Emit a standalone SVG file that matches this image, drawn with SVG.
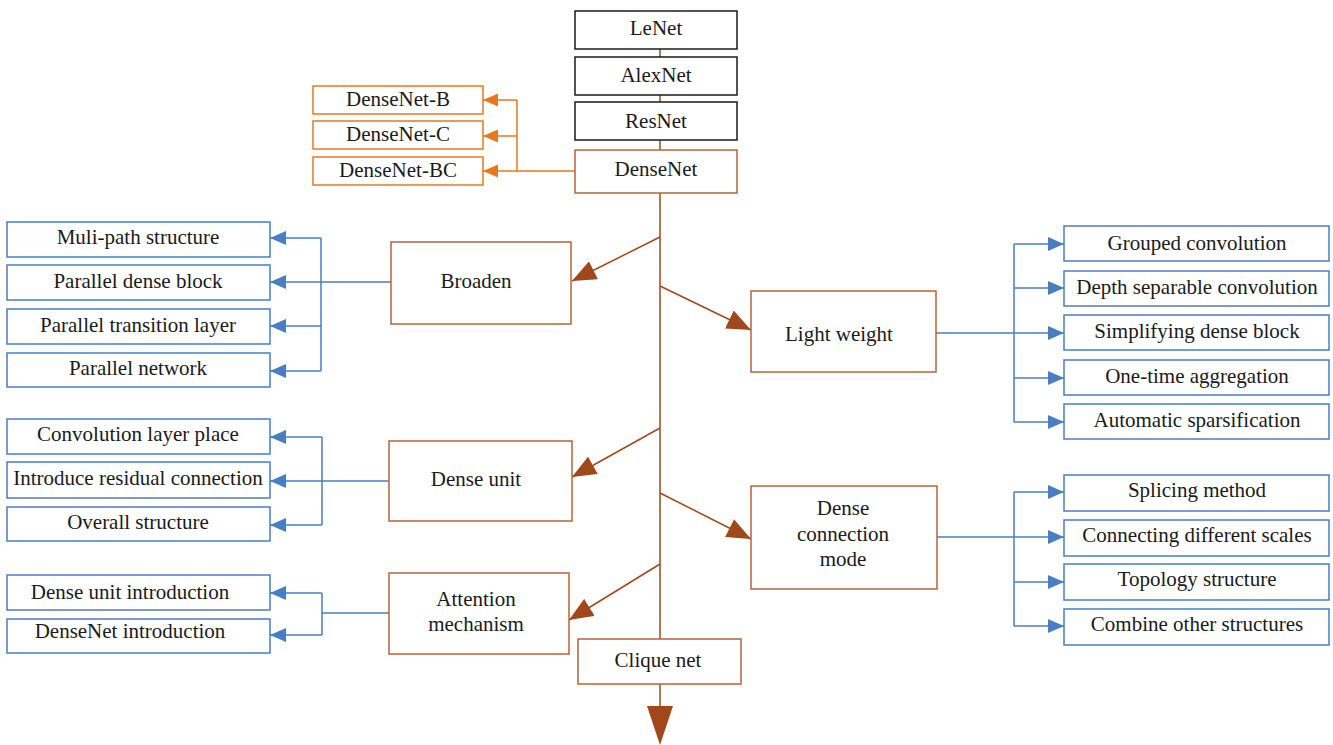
<svg xmlns="http://www.w3.org/2000/svg" width="1333" height="745" viewBox="0 0 1333 745">
<style>
text{font-family:"Liberation Serif","Times New Roman",serif;font-size:21px;fill:#1a1a1a;text-anchor:middle;dominant-baseline:central}
.bk{fill:#fff;stroke:#1a1a1a;stroke-width:1.5}
.br{fill:#fff;stroke:#B5633A;stroke-width:1.5}
.or{fill:#fff;stroke:#E8781E;stroke-width:1.5}
.bl{fill:#fff;stroke:#4A7EC0;stroke-width:1.5}
.lbr{fill:none;stroke:#A1481B;stroke-width:1.5}
.lor{fill:none;stroke:#E8781E;stroke-width:1.5}
.lbl{fill:none;stroke:#4A7EC0;stroke-width:1.5}
</style>
<defs>
<marker id="ab" viewBox="0 0 24 20" markerWidth="24" markerHeight="20" refX="24" refY="10" orient="auto" markerUnits="userSpaceOnUse"><path d="M0,0 L24,10 L0,20 z" fill="#A1481B"/></marker>
<marker id="ao" viewBox="0 0 15 13" markerWidth="15" markerHeight="13" refX="15" refY="6.5" orient="auto" markerUnits="userSpaceOnUse"><path d="M0,0 L15,6.5 L0,13 z" fill="#E8781E"/></marker>
<marker id="ae" viewBox="0 0 16 14" markerWidth="16" markerHeight="14" refX="16" refY="7" orient="auto" markerUnits="userSpaceOnUse"><path d="M0,0 L16,7 L0,14 z" fill="#4A7EC0"/></marker>
</defs>
<g id="connectors">
<path class="lbr" d="M660,49V57 M660,95V102 M660,140V150 M660,193V639 M660,684V707"/>
<polygon points="647,706 673,706 660,745" fill="#A1481B"/>
<path class="lbr" d="M660,237L572,281" marker-end="url(#ab)"/>
<path class="lbr" d="M660,286L751,330" marker-end="url(#ab)"/>
<path class="lbr" d="M660,428L572,477" marker-end="url(#ab)"/>
<path class="lbr" d="M660,493L751,539" marker-end="url(#ab)"/>
<path class="lbr" d="M660,564L569,620" marker-end="url(#ab)"/>
<path class="lor" d="M575,171H517V100"/>
<path class="lor" d="M517,100H483" marker-end="url(#ao)"/>
<path class="lor" d="M517,136H483" marker-end="url(#ao)"/>
<path class="lor" d="M517,171H483" marker-end="url(#ao)"/>
<path class="lbl" d="M391,282H321 M321,238V371"/>
<path class="lbl" d="M321,238H270" marker-end="url(#ae)"/>
<path class="lbl" d="M321,282H270" marker-end="url(#ae)"/>
<path class="lbl" d="M321,326H270" marker-end="url(#ae)"/>
<path class="lbl" d="M321,371H270" marker-end="url(#ae)"/>
<path class="lbl" d="M389,481H322 M322,437V525"/>
<path class="lbl" d="M322,437H270" marker-end="url(#ae)"/>
<path class="lbl" d="M322,481H270" marker-end="url(#ae)"/>
<path class="lbl" d="M322,525H270" marker-end="url(#ae)"/>
<path class="lbl" d="M389,613H322 M322,593V635"/>
<path class="lbl" d="M322,593H270" marker-end="url(#ae)"/>
<path class="lbl" d="M322,635H270" marker-end="url(#ae)"/>
<path class="lbl" d="M936,333H1014 M1014,244V422"/>
<path class="lbl" d="M1014,244H1064" marker-end="url(#ae)"/>
<path class="lbl" d="M1014,288H1064" marker-end="url(#ae)"/>
<path class="lbl" d="M1014,333H1064" marker-end="url(#ae)"/>
<path class="lbl" d="M1014,378H1064" marker-end="url(#ae)"/>
<path class="lbl" d="M1014,422H1064" marker-end="url(#ae)"/>
<path class="lbl" d="M937,537H1014 M1014,492V626"/>
<path class="lbl" d="M1014,492H1064" marker-end="url(#ae)"/>
<path class="lbl" d="M1014,537H1064" marker-end="url(#ae)"/>
<path class="lbl" d="M1014,582H1064" marker-end="url(#ae)"/>
<path class="lbl" d="M1014,626H1064" marker-end="url(#ae)"/>
</g>
<g id="lenet"><rect class="bk" x="575" y="11" width="162" height="38"/><text x="656" y="28">LeNet</text></g>
<g id="alexnet"><rect class="bk" x="575" y="57" width="162" height="38"/><text x="656" y="75">AlexNet</text></g>
<g id="resnet"><rect class="bk" x="575" y="102" width="162" height="38"/><text x="656" y="121">ResNet</text></g>
<g id="densenet"><rect class="br" x="575" y="150" width="162" height="43"/><text x="656" y="169">DenseNet</text></g>
<g id="densenet-b"><rect class="or" x="313" y="86" width="170" height="28"/><text x="398" y="99">DenseNet-B</text></g>
<g id="densenet-c"><rect class="or" x="313" y="121" width="170" height="28"/><text x="398" y="134">DenseNet-C</text></g>
<g id="densenet-bc"><rect class="or" x="313" y="157" width="170" height="28"/><text x="398" y="170">DenseNet-BC</text></g>
<g id="broaden"><rect class="br" x="391" y="242" width="180" height="82"/><text x="476" y="281">Broaden</text></g>
<g id="lightweight"><rect class="br" x="751" y="291" width="185" height="81"/><text x="839" y="334">Light weight</text></g>
<g id="denseunit"><rect class="br" x="389" y="441" width="183" height="80"/><text x="476" y="479">Dense unit</text></g>
<g id="denseconn"><rect class="br" x="751" y="486" width="186" height="103"/><text x="843" y="508">Dense</text><text x="843" y="534">connection</text><text x="843" y="559">mode</text></g>
<g id="attention"><rect class="br" x="389" y="573" width="180" height="81"/><text x="476" y="599">Attention</text><text x="476" y="624">mechanism</text></g>
<g id="cliquenet"><rect class="br" x="578" y="639" width="163" height="45"/><text x="658" y="660">Clique net</text></g>
<g id="muli"><rect class="bl" x="7" y="222" width="263" height="35"/><text x="138" y="237">Muli-path structure</text></g>
<g id="pdb"><rect class="bl" x="7" y="265" width="263" height="35"/><text x="138" y="281">Parallel dense block</text></g>
<g id="ptl"><rect class="bl" x="7" y="309" width="263" height="35"/><text x="138" y="325">Parallel transition layer</text></g>
<g id="pn"><rect class="bl" x="7" y="353" width="263" height="34"/><text x="138" y="368">Parallel network</text></g>
<g id="clp"><rect class="bl" x="7" y="419" width="263" height="35"/><text x="138" y="434">Convolution layer place</text></g>
<g id="irc"><rect class="bl" x="7" y="462" width="263" height="36"/><text x="138" y="478">Introduce residual connection</text></g>
<g id="os"><rect class="bl" x="7" y="507" width="263" height="34"/><text x="138" y="522">Overall structure</text></g>
<g id="dui"><rect class="bl" x="7" y="575" width="263" height="35"/><text x="130" y="592">Dense unit introduction</text></g>
<g id="dni"><rect class="bl" x="7" y="619" width="263" height="34"/><text x="130" y="631">DenseNet introduction</text></g>
<g id="gc"><rect class="bl" x="1064" y="226" width="265" height="35"/><text x="1197" y="243">Grouped convolution</text></g>
<g id="dsc"><rect class="bl" x="1064" y="271" width="265" height="35"/><text x="1197" y="287">Depth separable convolution</text></g>
<g id="sdb"><rect class="bl" x="1064" y="315" width="265" height="35"/><text x="1197" y="331">Simplifying dense block</text></g>
<g id="ota"><rect class="bl" x="1064" y="360" width="265" height="35"/><text x="1197" y="376">One-time aggregation</text></g>
<g id="as"><rect class="bl" x="1064" y="404" width="265" height="35"/><text x="1197" y="420">Automatic sparsification</text></g>
<g id="sm"><rect class="bl" x="1064" y="475" width="265" height="36"/><text x="1197" y="490">Splicing method</text></g>
<g id="cds"><rect class="bl" x="1064" y="520" width="265" height="36"/><text x="1197" y="535">Connecting different scales</text></g>
<g id="ts"><rect class="bl" x="1064" y="564" width="265" height="36"/><text x="1197" y="579">Topology structure</text></g>
<g id="cos"><rect class="bl" x="1064" y="609" width="265" height="36"/><text x="1197" y="624">Combine other structures</text></g>
</svg>
